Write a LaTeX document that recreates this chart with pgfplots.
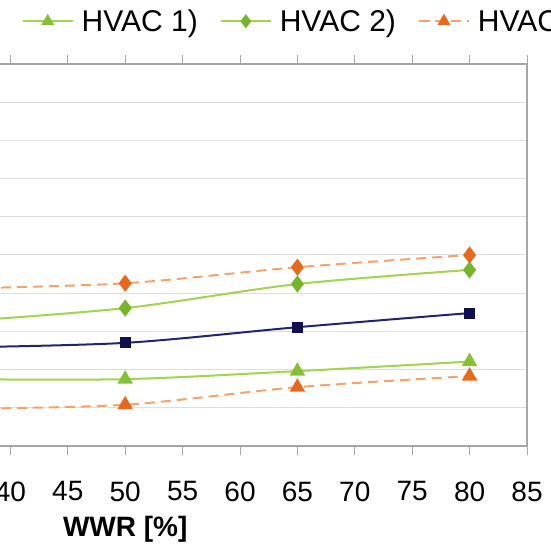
\documentclass[border=0pt]{standalone}
\usepackage{fontspec}
\setmainfont{Liberation Sans}
\usepackage{pgfplots}
\pgfplotsset{compat=1.18}
\definecolor{navyline}{HTML}{232372}
\definecolor{navymark}{HTML}{10104E}
\definecolor{gline}{HTML}{A2D44C}
\definecolor{gmarkA}{HTML}{86C034}
\definecolor{gmarkB}{HTML}{76B52A}
\definecolor{oline}{HTML}{F4A469}
\definecolor{omark}{HTML}{E8691E}
\definecolor{gridc}{HTML}{DEDEDE}
\definecolor{framec}{HTML}{A6A6A6}
\begin{document}
\begin{tikzpicture}
\useasboundingbox (0,0) rectangle (551bp,548bp);
\clip (0,0) rectangle (551bp,548bp);
\begin{axis}[
  at={(527bp,102bp)}, anchor=south east,
  x=11.48bp, y=38.2bp,
  xmin=15, xmax=85, ymin=0, ymax=10,
  xtick={15,20,...,85}, ytick={0,1,...,10},
  yticklabels={},
  ymajorgrids, major grid style={gridc, line width=1bp},
  axis line style={framec, line width=1.2bp},
  x tick style={framec, line width=1bp},
  y tick style={draw=none},
  tick align=outside, major tick length=9bp,
  /pgf/number format/assume math mode=true,
  tick label style={font=\fontsize{28bp}{32bp}\selectfont},
  xticklabel style={yshift=-23bp},
  xlabel={\textbf{WWR [\%]}},
  xlabel style={font=\fontsize{28bp}{32bp}\selectfont, yshift=-8bp},
  legend columns=-1,
  legend style={draw=none, fill=none, at={(0.093,1.112)}, anchor=west,
    font=\fontsize{30bp}{34bp}\selectfont,
    /tikz/every odd column/.append style={column sep=6bp},
    /tikz/every even column/.append style={column sep=20bp}},
  legend image code/.code={\draw[mark repeat=2,mark phase=2, mark size=5.5bp] plot coordinates {(0bp,0bp) (25bp,0bp) (50bp,0bp)};},
  every axis plot/.append style={line width=2bp, smooth, tension=0.5},
]
\addplot[navyline, mark=square*, mark size=4.5bp, mark options={navymark, solid}]
  coordinates {(35,2.58) (50,2.70) (65,3.11) (80,3.48)};
\addlegendentry{Reference}
\addplot[gline, mark=triangle*, mark size=7bp, mark options={gmarkA, solid}]
  coordinates {(35,1.75) (50,1.75) (65,1.96) (80,2.21)};
\addlegendentry{HVAC 1)}
\addplot[gline, mark=diamond*, mark size=7bp, mark options={gmarkB, solid}]
  coordinates {(35,3.25) (50,3.61) (65,4.24) (80,4.61)};
\addlegendentry{HVAC 2)}
\addplot[oline, dashed, dash pattern=on 10bp off 6bp, mark=triangle*, mark size=7bp, mark options={omark, solid}]
  coordinates {(35,0.97) (50,1.08) (65,1.54) (80,1.83)};
\addlegendentry{HVAC 3)}
\addplot[oline, dashed, dash pattern=on 10bp off 6bp, mark=diamond*, mark size=7bp, mark options={omark, solid}]
  coordinates {(35,4.12) (50,4.26) (65,4.68) (80,5.0)};
\addlegendentry{HVAC 4)}
\end{axis}
\end{tikzpicture}
\end{document}
